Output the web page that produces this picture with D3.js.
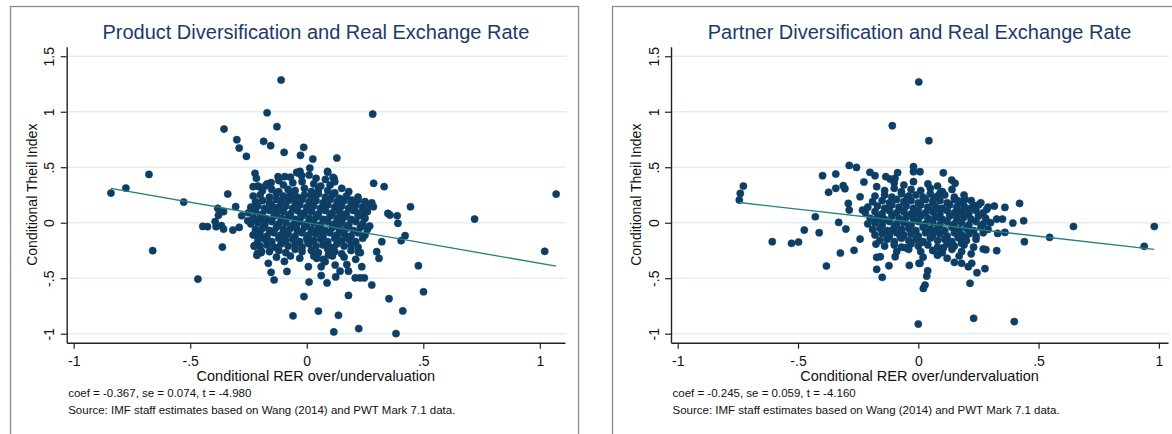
<!DOCTYPE html>
<html>
<head>
<meta charset="utf-8">
<script src="https://cdn.jsdelivr.net/npm/d3@7"></script>
<style>
body { margin: 0; background: #fff; }
svg text { font-family: "Liberation Sans", Arial, sans-serif; }
</style>
</head>
<body>
<script>
// Two Stata-style scatter panels: diversification vs. RER misalignment

var titles = ["Product Diversification and Real Exchange Rate",
              "Partner Diversification and Real Exchange Rate"];
var notes = ["coef = -0.367, se = 0.074, t = -4.980",
             "coef = -0.245, se = 0.059, t = -4.160"];
var sources = ["Source: IMF staff estimates based on Wang (2014) and PWT Mark 7.1 data.",
               "Source: IMF staff estimates based on Wang (2014) and PWT Mark 7.1 data."];
var xTitle = "Conditional RER over/undervaluation";
var yTitle = "Conditional Theil Index";

var xTickValues = [-1, -0.5, 0, 0.5, 1];
var xTickLabels = ["-1", "-.5", "0", ".5", "1"];
var yTickValues = [-1, -0.5, 0, 0.5, 1, 1.5];
var yTickLabels = ["-1", "-.5", "0", ".5", "1", "1.5"];

// linear fit (intercept, slope)
var fitIntercepts = [0.001, 0.0];
var fitCoefs = [-0.367, -0.245];

var productPoints = [
  [-0.840,0.267],[-0.776,0.312],[-0.677,0.435],[-0.661,-0.252],[-0.528,0.186],[-0.467,-0.508],
  [-0.355,0.844],[-0.300,0.748],[-0.290,0.673],[-0.259,0.598],[-0.339,0.259],[-0.305,0.145],
  [-0.357,0.100],[-0.382,0.130],[-0.379,0.067],[-0.393,0.010],[-0.426,-0.036],[-0.446,-0.033],[-0.389,-0.036],
  [-0.366,-0.027],[-0.357,-0.057],[-0.317,-0.066],[-0.290,-0.042],[-0.279,0.063],[-0.253,0.018],[-0.227,0.024],
  [-0.362,-0.219],[-0.226,-0.210],[-0.214,-0.294],[-0.196,-0.270],[-0.165,-0.366],[-0.153,-0.447],[-0.140,-0.516],
  [-0.096,-0.349],[-0.085,-0.439],[-0.059,-0.839],[-0.012,-0.665],[0.010,-0.534],[0.007,-0.396],[0.050,-0.796],
  [-0.170,0.991],[-0.128,0.865],[-0.110,1.286],[-0.185,0.733],[-0.155,0.694],[-0.097,0.634],[-0.013,0.679],
  [-0.027,0.607],[0.026,0.574],[0.129,0.583],[0.283,0.979],[0.090,0.454],[0.117,0.400],[0.287,0.355],[0.332,0.325],
  [-0.222,0.445],[-0.216,0.400],[-0.230,0.325],[-0.205,0.325],[-0.176,0.334],[-0.153,0.361],[-0.123,0.415],[-0.094,0.415],
  [-0.043,0.454],[-0.022,0.424],[-0.029,0.462],[0.013,0.492],[0.089,0.462],[0.113,0.408],
  [0.279,0.180],[0.286,0.144],[0.193,0.204],[0.236,0.084],[0.247,0.039],[0.348,0.084],[0.357,0.069],[0.388,0.063],[0.391,-0.005],
  [0.445,0.144],[0.720,0.033],[1.070,0.258],[1.021,-0.258],[0.422,-0.117],[0.405,-0.162],[0.322,-0.171],[0.300,-0.261],[0.310,-0.321],
  [0.236,-0.396],[0.279,-0.561],[0.479,-0.387],[0.501,-0.622],[0.353,-0.684],[0.412,-0.795],[0.383,-0.999],[0.223,-0.954],
  [0.116,-0.984],[0.136,-0.834],[0.179,-0.655],[0.087,-0.542],[0.208,-0.497],[0.229,-0.497],[0.247,-0.497],
  [0.124,-0.488],[0.062,-0.476],[0.179,-0.437],[0.172,-0.377],[0.062,-0.396],[0.122,-0.381],[0.143,-0.437],[0.222,-0.267],
  [0.093,-0.291],[0.079,-0.351],[0.043,-0.321],[-0.211,-0.273],[-0.224,-0.207],[-0.194,-0.258],
  // dense core
  [-0.12,0.38],[-0.07,0.41],[-0.04,0.45],[0.01,0.43],[0.04,0.40],[0.08,0.39],[0.12,0.37],
  [-0.21,0.33],[-0.17,0.35],[-0.10,0.34],[-0.06,0.36],[-0.02,0.37],[0.03,0.35],[0.06,0.33],[0.10,0.34],[0.15,0.31],
  [-0.19,0.29],[-0.15,0.30],[-0.12,0.28],[-0.08,0.30],[-0.05,0.29],[-0.01,0.31],[0.02,0.28],[0.05,0.30],[0.09,0.29],[0.12,0.27],[0.18,0.28],
  [-0.23,0.24],[-0.20,0.25],[-0.16,0.23],[-0.13,0.26],[-0.10,0.24],[-0.07,0.25],[-0.04,0.23],[-0.01,0.25],[0.02,0.24],[0.05,0.26],[0.08,0.23],[0.11,0.25],[0.14,0.22],[0.17,0.24],[0.22,0.23],
  [-0.22,0.19],[-0.19,0.20],[-0.16,0.18],[-0.13,0.21],[-0.11,0.19],[-0.08,0.20],[-0.05,0.18],[-0.02,0.21],[0.01,0.19],[0.04,0.20],[0.07,0.18],[0.10,0.21],[0.13,0.19],[0.16,0.20],[0.19,0.18],[0.22,0.20],[0.25,0.19],
  [-0.24,0.14],[-0.21,0.15],[-0.18,0.13],[-0.15,0.16],[-0.12,0.14],[-0.09,0.15],[-0.06,0.13],[-0.03,0.16],[0.00,0.14],[0.03,0.15],[0.06,0.13],[0.09,0.16],[0.12,0.14],[0.15,0.15],[0.18,0.13],[0.21,0.16],[0.24,0.14],[0.27,0.15],
  [-0.25,0.09],[-0.22,0.10],[-0.19,0.08],[-0.16,0.11],[-0.13,0.09],[-0.10,0.10],[-0.07,0.08],[-0.04,0.11],[-0.01,0.09],[0.02,0.10],[0.05,0.08],[0.08,0.11],[0.11,0.09],[0.14,0.10],[0.17,0.08],[0.20,0.11],[0.23,0.09],[0.26,0.10],
  [-0.23,0.04],[-0.20,0.05],[-0.17,0.03],[-0.14,0.06],[-0.11,0.04],[-0.08,0.05],[-0.05,0.03],[-0.02,0.06],[0.01,0.04],[0.04,0.05],[0.07,0.03],[0.10,0.06],[0.13,0.04],[0.16,0.05],[0.19,0.03],[0.22,0.06],[0.25,0.04],
  [-0.24,-0.01],[-0.21,0.00],[-0.18,-0.02],[-0.15,0.01],[-0.12,-0.01],[-0.09,0.00],[-0.06,-0.02],[-0.03,0.01],[0.00,-0.01],[0.03,0.00],[0.06,-0.02],[0.09,0.01],[0.12,-0.01],[0.15,0.00],[0.18,-0.02],[0.21,0.01],[0.24,-0.01],[0.27,-0.03],
  [-0.22,-0.06],[-0.19,-0.05],[-0.16,-0.07],[-0.13,-0.04],[-0.10,-0.06],[-0.07,-0.05],[-0.04,-0.07],[-0.01,-0.04],[0.02,-0.06],[0.05,-0.05],[0.08,-0.07],[0.11,-0.04],[0.14,-0.06],[0.17,-0.05],[0.20,-0.07],[0.23,-0.04],[0.26,-0.06],
  [-0.23,-0.11],[-0.20,-0.10],[-0.17,-0.12],[-0.14,-0.09],[-0.11,-0.11],[-0.08,-0.10],[-0.05,-0.12],[-0.02,-0.09],[0.01,-0.11],[0.04,-0.10],[0.07,-0.12],[0.10,-0.09],[0.13,-0.11],[0.16,-0.10],[0.19,-0.12],[0.22,-0.09],[0.25,-0.11],
  [-0.21,-0.16],[-0.18,-0.15],[-0.15,-0.17],[-0.12,-0.14],[-0.09,-0.16],[-0.06,-0.15],[-0.03,-0.17],[0.00,-0.14],[0.03,-0.16],[0.06,-0.15],[0.09,-0.17],[0.12,-0.14],[0.15,-0.16],[0.18,-0.15],[0.21,-0.17],[0.24,-0.14],
  [-0.20,-0.21],[-0.17,-0.20],[-0.14,-0.22],[-0.11,-0.19],[-0.08,-0.21],[-0.05,-0.20],[-0.02,-0.22],[0.01,-0.19],[0.04,-0.21],[0.07,-0.20],[0.10,-0.22],[0.13,-0.19],[0.16,-0.21],[0.19,-0.20],[0.22,-0.22],
  [-0.16,-0.26],[-0.12,-0.25],[-0.09,-0.27],[-0.05,-0.24],[-0.02,-0.26],[0.02,-0.25],[0.05,-0.27],[0.09,-0.24],[0.12,-0.26],[0.15,-0.28],[0.19,-0.25],[0.23,-0.27],
  [-0.13,-0.31],[-0.07,-0.30],[-0.03,-0.32],[0.03,-0.30],[0.07,-0.33],[0.11,-0.30],[0.16,-0.31],[0.21,-0.33],
  [-0.065,0.225],[0.035,0.225],[-0.135,0.125],[0.075,0.125],[-0.025,0.075],[0.155,0.075],[-0.185,0.025],[0.085,0.025],
  [-0.045,-0.025],[0.135,-0.025],[-0.155,-0.075],[0.055,-0.075],[-0.095,-0.125],[0.175,-0.125],[0.005,-0.175],
  [-0.125,-0.225],[0.115,-0.225],[0.205,0.125],[-0.205,-0.125]
];

var partnerPoints = [
  [0.002,1.268],[-0.108,0.874],[0.044,0.739],[-0.727,0.330],[-0.740,0.264],[-0.744,0.204],
  [-0.428,0.054],[-0.474,-0.066],[-0.412,-0.090],[-0.607,-0.171],[-0.527,-0.186],[-0.498,-0.174],[-0.382,-0.390],
  [-0.398,0.424],[-0.343,0.439],[-0.373,0.274],[-0.343,0.310],[-0.312,0.334],[-0.305,0.307],[-0.287,0.516],[-0.257,0.498],
  [-0.226,0.367],[-0.201,0.454],[-0.180,0.424],[-0.173,0.325],[-0.135,0.415],[-0.117,0.394],[-0.086,0.451],[-0.097,0.400],
  [-0.020,0.505],[-0.020,0.460],[-0.331,0.003],[-0.301,-0.057],[-0.267,-0.249],[-0.324,-0.273],[-0.291,0.174],[-0.287,0.114],
  [-0.242,0.234],[-0.232,0.114],[-0.242,-0.147],[-0.176,-0.192],[-0.173,-0.312],[-0.158,-0.306],[-0.173,-0.420],[-0.150,-0.492],
  [-0.122,-0.387],[-0.096,-0.306],[-0.037,-0.384],[0.000,-0.913],[0.003,-0.366],
  [0.007,0.460],[0.104,0.450],[0.139,0.385],[0.153,0.355],[0.090,0.264],[0.080,0.234],[0.194,0.210],[0.164,0.198],[0.229,0.159],
  [0.284,0.119],[0.316,0.150],[0.360,0.138],[0.421,0.174],[0.326,0.033],[0.350,0.033],[0.393,-0.003],[0.438,0.018],
  [0.645,-0.034],[0.981,-0.034],[0.546,-0.132],[0.939,-0.213],[0.441,-0.171],[0.326,-0.252],[0.360,-0.087],[0.330,-0.096],
  [0.270,-0.237],[0.281,-0.243],[0.244,-0.450],[0.277,-0.414],[0.215,-0.546],[0.230,-0.861],[0.399,-0.891],
  [0.180,-0.366],[0.208,-0.396],[0.222,-0.366],[0.150,-0.357],[0.028,-0.562],[0.021,-0.592],[0.035,-0.481],[0.039,-0.433],
  [0.007,-0.366],[0.080,-0.291],[0.097,-0.246],[0.125,-0.186],[0.180,-0.186],[0.194,-0.141],
  // dense core
  [-0.10,0.36],[-0.06,0.34],[-0.02,0.37],[0.04,0.35],[0.08,0.33],
  [-0.14,0.29],[-0.10,0.31],[-0.07,0.28],[-0.03,0.30],[0.01,0.29],[0.05,0.31],[0.10,0.28],[0.14,0.30],
  [-0.18,0.24],[-0.14,0.25],[-0.11,0.23],[-0.07,0.26],[-0.04,0.24],[-0.01,0.25],[0.02,0.23],[0.05,0.26],[0.08,0.24],[0.11,0.25],[0.15,0.23],[0.19,0.25],
  [-0.19,0.19],[-0.15,0.20],[-0.12,0.18],[-0.09,0.21],[-0.06,0.19],[-0.03,0.20],[0.00,0.18],[0.03,0.21],[0.06,0.19],[0.09,0.20],[0.12,0.18],[0.15,0.21],[0.18,0.19],[0.22,0.20],[0.26,0.18],
  [-0.21,0.14],[-0.17,0.15],[-0.14,0.13],[-0.11,0.16],[-0.08,0.14],[-0.05,0.15],[-0.02,0.13],[0.01,0.16],[0.04,0.14],[0.07,0.15],[0.10,0.13],[0.13,0.16],[0.16,0.14],[0.19,0.15],[0.22,0.13],[0.25,0.16],[0.29,0.14],
  [-0.22,0.09],[-0.18,0.10],[-0.15,0.08],[-0.12,0.11],[-0.09,0.09],[-0.06,0.10],[-0.03,0.08],[0.00,0.11],[0.03,0.09],[0.06,0.10],[0.09,0.08],[0.12,0.11],[0.15,0.09],[0.18,0.10],[0.21,0.08],[0.24,0.11],[0.27,0.09],
  [-0.20,0.04],[-0.17,0.05],[-0.14,0.03],[-0.11,0.06],[-0.08,0.04],[-0.05,0.05],[-0.02,0.03],[0.01,0.06],[0.04,0.04],[0.07,0.05],[0.10,0.03],[0.13,0.06],[0.16,0.04],[0.19,0.05],[0.22,0.03],[0.25,0.06],[0.28,0.04],
  [-0.21,-0.01],[-0.18,0.00],[-0.15,-0.02],[-0.12,0.01],[-0.09,-0.01],[-0.06,0.00],[-0.03,-0.02],[0.00,0.01],[0.03,-0.01],[0.06,0.00],[0.09,-0.02],[0.12,0.01],[0.15,-0.01],[0.18,0.00],[0.21,-0.02],[0.24,0.01],[0.27,-0.01],[0.30,0.00],
  [-0.19,-0.06],[-0.16,-0.05],[-0.13,-0.07],[-0.10,-0.04],[-0.07,-0.06],[-0.04,-0.05],[-0.01,-0.07],[0.02,-0.04],[0.05,-0.06],[0.08,-0.05],[0.11,-0.07],[0.14,-0.04],[0.17,-0.06],[0.20,-0.05],[0.23,-0.07],[0.26,-0.04],[0.29,-0.06],
  [-0.18,-0.11],[-0.15,-0.10],[-0.12,-0.12],[-0.09,-0.09],[-0.06,-0.11],[-0.03,-0.10],[0.00,-0.12],[0.03,-0.09],[0.06,-0.11],[0.09,-0.10],[0.12,-0.12],[0.15,-0.09],[0.18,-0.11],[0.21,-0.10],[0.24,-0.12],[0.27,-0.09],
  [-0.16,-0.16],[-0.13,-0.15],[-0.10,-0.17],[-0.07,-0.14],[-0.04,-0.16],[-0.01,-0.15],[0.02,-0.17],[0.05,-0.14],[0.08,-0.16],[0.11,-0.15],[0.14,-0.17],[0.17,-0.14],[0.20,-0.16],[0.24,-0.15],
  [-0.14,-0.21],[-0.10,-0.20],[-0.07,-0.22],[-0.03,-0.19],[0.00,-0.21],[0.04,-0.20],[0.08,-0.22],[0.12,-0.19],[0.15,-0.21],[0.19,-0.20],[0.23,-0.22],
  [-0.09,-0.26],[-0.04,-0.24],[0.01,-0.26],[0.06,-0.25],[0.10,-0.27],[0.14,-0.24],[0.18,-0.26],[0.22,-0.28],
  [0.02,-0.31],[0.08,-0.29],[0.12,-0.32],[0.17,-0.30],
  [-0.045,0.225],[0.065,0.225],[-0.125,0.125],[0.085,0.125],[-0.015,0.075],[0.165,0.075],[-0.155,0.025],[0.095,0.025],
  [-0.035,-0.025],[0.145,-0.025],[-0.115,-0.075],[0.065,-0.075],[-0.075,-0.125],[0.165,-0.125],[0.015,-0.175],
  [-0.055,-0.225],[0.105,-0.225],[0.205,0.125]
];

// Layout
var w = 1172;
var h = 434;
var plotTop = 46.7;
var plotBottom = 342.7;
var yDomain = [-1.081, 1.586];

var navy = "#0d3e66";
var teal = "#23837a";
var gridColor = "#e4edf0";

var panels = [
  {frameX: 10.5, frameW: 568, left: 66.7, right: 565, xDomain: [-1.030, 1.108],
   points: productPoints, title: titles[0], note: notes[0], source: sources[0],
   a: fitIntercepts[0], b: fitCoefs[0]},
  {frameX: 612.5, frameW: 640, left: 671, right: 1168, xDomain: [-1.028, 1.038],
   points: partnerPoints, title: titles[1], note: notes[1], source: sources[1],
   a: fitIntercepts[1], b: fitCoefs[1]}
];

var svg = d3.select("body").append("svg")
    .attr("width", w)
    .attr("height", h);

panels.forEach(drawPanel);

function drawPanel(p) {
    var x = d3.scaleLinear().domain(p.xDomain).range([p.left, p.right]);
    var y = d3.scaleLinear().domain(yDomain).range([plotBottom, plotTop]);
    var g = svg.append("g");

    // outer frame of the graph region
    g.append("rect")
        .attr("x", p.frameX)
        .attr("y", 6.5)
        .attr("width", p.frameW)
        .attr("height", 460)
        .attr("fill", "none")
        .attr("stroke", "#8c8c8c")
        .attr("stroke-width", 1.3);

    // horizontal grid lines
    g.selectAll("line.grid")
        .data(yTickValues)
        .enter()
        .append("line")
        .attr("class", "grid")
        .attr("x1", p.left)
        .attr("x2", p.right + 1.5)
        .attr("y1", function(d) { return y(d); })
        .attr("y2", function(d) { return y(d); })
        .attr("stroke", gridColor)
        .attr("stroke-width", 1.5);

    // scatter
    g.selectAll("circle")
        .data(p.points)
        .enter()
        .append("circle")
        .attr("cx", function(d) { return x(d[0]); })
        .attr("cy", function(d) { return y(d[1]); })
        .attr("r", 3.6)
        .attr("fill", navy)
        .attr("stroke", navy)
        .attr("stroke-width", 0.6);

    // fitted line over the range of the data
    var ext = d3.extent(p.points, function(d) { return d[0]; });
    g.append("line")
        .attr("x1", x(ext[0]))
        .attr("y1", y(p.a + p.b * ext[0]))
        .attr("x2", x(ext[1]))
        .attr("y2", y(p.a + p.b * ext[1]))
        .attr("stroke", teal)
        .attr("stroke-width", 1.3);

    // axes
    var yAxis = d3.axisLeft(y)
        .tickValues(yTickValues)
        .tickFormat(function(d) { return yTickLabels[yTickValues.indexOf(d)]; })
        .tickSize(6)
        .tickSizeOuter(0);

    var gy = g.append("g")
        .attr("transform", "translate(" + p.left + ",0)")
        .call(yAxis);
    gy.selectAll("text")
        .attr("transform", "rotate(-90)")
        .attr("x", 0)
        .attr("y", -12.5)
        .attr("dy", 0)
        .attr("text-anchor", "middle");

    var xAxis = d3.axisBottom(x)
        .tickValues(xTickValues)
        .tickFormat(function(d) { return xTickLabels[xTickValues.indexOf(d)]; })
        .tickSize(6)
        .tickSizeOuter(0);

    var gx = g.append("g")
        .attr("transform", "translate(0," + plotBottom + ")")
        .call(xAxis);
    gx.selectAll("text")
        .attr("y", 23.5)
        .attr("dy", 0);

    [gx, gy].forEach(function(a) {
        a.attr("font-size", 14).attr("font-family", null);
        a.selectAll("text").attr("fill", "#111");
        a.selectAll("line").attr("stroke", "#222").attr("stroke-width", 1.2);
        a.select(".domain").attr("stroke", "#222").attr("stroke-width", 1.4);
    });

    var cx = (p.left + p.right) / 2;

    g.append("text")
        .attr("x", cx)
        .attr("y", 39)
        .attr("text-anchor", "middle")
        .attr("font-size", 20)
        .attr("fill", "#1c3a69")
        .text(p.title);

    g.append("text")
        .attr("transform", "translate(" + (p.left - 29.7) + "," + ((plotTop + plotBottom) / 2) + ") rotate(-90)")
        .attr("text-anchor", "middle")
        .attr("font-size", 14)
        .attr("fill", "#111")
        .text(yTitle);

    g.append("text")
        .attr("x", cx)
        .attr("y", 381)
        .attr("text-anchor", "middle")
        .attr("font-size", 14.5)
        .attr("fill", "#111")
        .text(xTitle);

    g.append("text")
        .attr("x", p.left + 1.5)
        .attr("y", 397)
        .attr("font-size", 11.5)
        .attr("fill", "#111")
        .text(p.note);

    g.append("text")
        .attr("x", p.left + 1.5)
        .attr("y", 414)
        .attr("font-size", 11.5)
        .attr("fill", "#111")
        .text(p.source);
}
</script>
</body>
</html>
